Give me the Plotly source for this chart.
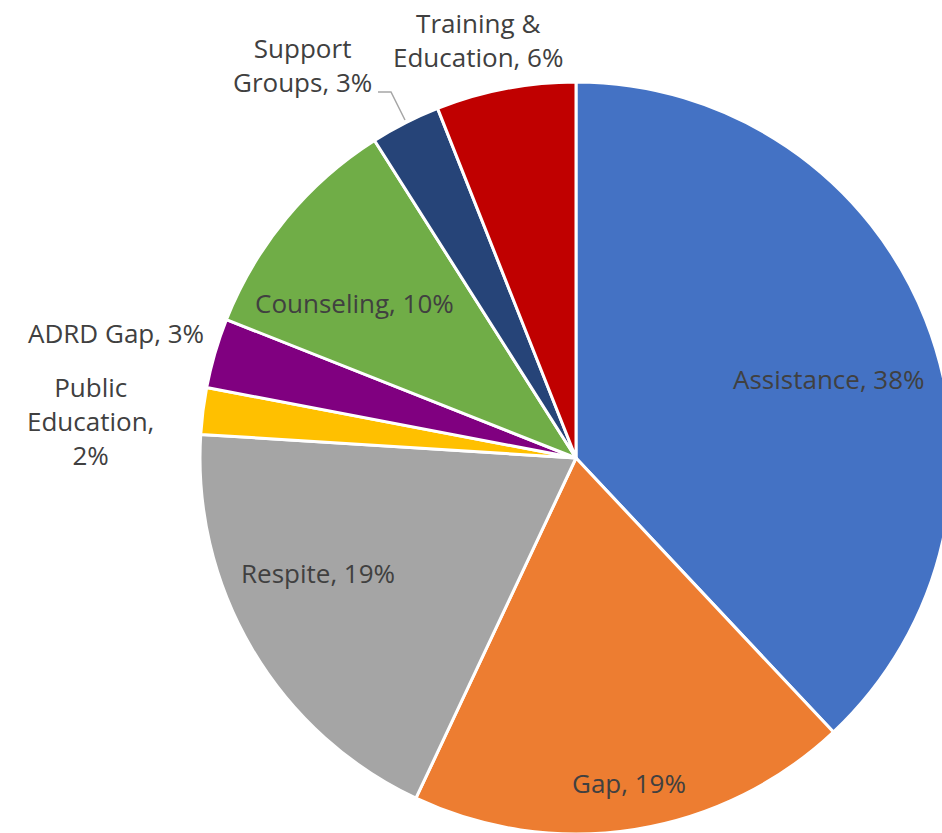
import plotly.graph_objects as go

# ---- data ----
labels = ["Assistance", "Gap", "Respite", "Public Education", "ADRD Gap",
          "Counseling", "Support Groups", "Training & Education"]
values = [38, 19, 19, 2, 3, 10, 3, 6]
# label text as displayed (line breaks as in the reference)
display_names = ["Assistance", "Gap", "Respite", "Public<br>Education", "ADRD Gap",
                 "Counseling", "Support<br>Groups", "Training &<br>Education"]
separators = [", ", ", ", ", ", ",<br>", ", ", ", ", ", ", ", "]
colors = ["#4472C4", "#ED7D31", "#A5A5A5", "#FFC000", "#800080",
          "#70AD47", "#264478", "#C00000"]

# ---- layout helpers ----
# The pie in the reference runs slightly past the right/bottom edge of the
# 942x833 view, so the figure is made a little larger and the page is clipped.
W, H = 952, 834
FONT = "Open Sans, Noto Sans, sans-serif"
TXT = "#404040"

def px(x):
    return x / W

def py(y):
    return 1 - y / H

# label centre positions (pixels) for each slice label
label_pos = [(829, 379), (629, 783), (318, 573), (90, 421), (116, 333),
             (354, 303), (302, 65), (478, 40)]

fig = go.Figure()
fig.add_trace(go.Pie(
    labels=labels,
    values=values,
    sort=False,
    direction="clockwise",
    rotation=0,
    marker=dict(colors=colors, line=dict(color="white", width=3)),
    textinfo="none",
    hoverinfo="label+percent",
    domain=dict(x=[px(200), 1], y=[0, py(82)]),
    showlegend=False,
))

total = sum(values)
annotations = []
for name, sep, v, (lx, ly) in zip(display_names, separators, values, label_pos):
    pct = round(100 * v / total)
    annotations.append(dict(
        text=f"{name}{sep}{pct}%",
        x=px(lx), y=py(ly), xref="paper", yref="paper",
        xanchor="center", yanchor="middle", align="center",
        showarrow=False,
        font=dict(family=FONT, size=26, color=TXT),
    ))

# leader line for "Support Groups"
leader = f"M {px(378)},{py(92)} L {px(391)},{py(92)} L {px(405)},{py(120)}"

fig.update_layout(
    width=W, height=H,
    margin=dict(l=0, r=0, t=0, b=0),
    paper_bgcolor="white",
    plot_bgcolor="white",
    annotations=annotations,
    shapes=[dict(type="path", path=leader, xref="paper", yref="paper",
                 line=dict(color="#A6A6A6", width=1.5))],
    font=dict(family=FONT, color=TXT),
)

fig.write_html(
    "out.html",
    config={"displayModeBar": False},
    post_script="document.body.style.margin='0';"
                "document.documentElement.style.overflow='hidden';"
                "document.body.style.overflow='hidden';",
)
